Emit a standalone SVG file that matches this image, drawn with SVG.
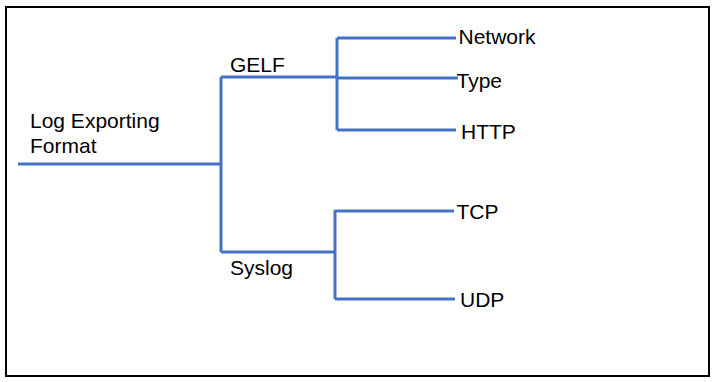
<svg xmlns="http://www.w3.org/2000/svg" width="717" height="382" viewBox="0 0 717 382">
<style>
.c{fill:none;stroke:#4472C4;stroke-width:3;stroke-linejoin:miter}
text{font-family:"Liberation Sans",Arial,sans-serif;font-size:21px;fill:#000}
</style>
<rect x="0" y="0" width="717" height="382" fill="#fff"/>
<rect x="6" y="7" width="703" height="369" fill="none" stroke="#000" stroke-width="2"/>
<g id="connectors">
<path class="c" d="M18 164H221"/>
<path class="c" d="M221 77V252"/>
<path class="c" d="M221 77H337"/>
<path class="c" d="M221 252H335"/>
<path class="c" d="M337 38V130"/>
<path class="c" d="M337 38H456"/>
<path class="c" d="M337 78H458"/>
<path class="c" d="M337 130H456"/>
<path class="c" d="M335 210V299"/>
<path class="c" d="M335 211H454"/>
<path class="c" d="M335 299H455"/>
</g>
<g id="root"><text x="30" y="128">Log Exporting</text><text x="30" y="152.5">Format</text></g>
<g id="gelf"><text x="230" y="71.5">GELF</text></g>
<g id="syslog"><text x="230" y="275">Syslog</text></g>
<g id="network"><text x="458.5" y="44">Network</text></g>
<g id="type"><text x="456.5" y="88">Type</text></g>
<g id="http"><text x="461" y="139">HTTP</text></g>
<g id="tcp"><text x="456.5" y="219">TCP</text></g>
<g id="udp"><text x="460" y="306.5">UDP</text></g>
</svg>
